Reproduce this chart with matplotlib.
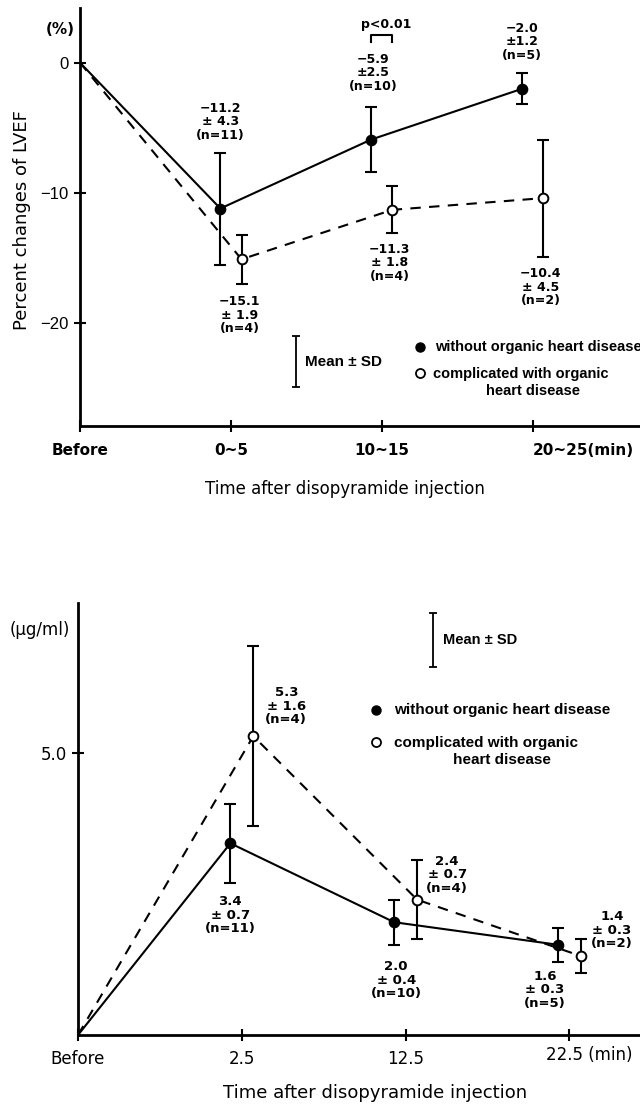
import numpy as np
import matplotlib.pyplot as plt

plt.rcParams['font.family'] = ['DejaVu Sans']
ARIAL = ['Liberation Sans', 'DejaVu Sans']

# upper panel: percent change of LVEF
time_top = ["Before", "0~5", "10~15", "20~25(min)"]
lvef_without = [0, -11.2, -5.9, -2.0]
lvef_without_sd = [0, 4.3, 2.5, 1.2]
lvef_without_n = [None, 11, 10, 5]
lvef_with = [0, -15.1, -11.3, -10.4]
lvef_with_sd = [0, 1.9, 1.8, 4.5]
lvef_with_n = [None, 4, 4, 2]

# lower panel: plasma concentration
time_bottom = ["Before", "2.5", "12.5", "22.5 (min)"]
conc_without = [0, 3.4, 2.0, 1.6]
conc_without_sd = [0, 0.7, 0.4, 0.3]
conc_without_n = [None, 11, 10, 5]
conc_with = [0, 5.3, 2.4, 1.4]
conc_with_sd = [0, 1.6, 0.7, 0.3]
conc_with_n = [None, 4, 4, 2]

LW = 1.5
SHIFT = 0.07


def style_axes(ax):
    for s in ['top', 'right']:
        ax.spines[s].set_visible(False)
    for s in ['left', 'bottom']:
        ax.spines[s].set_linewidth(2.0)
    ax.tick_params(direction='inout', length=9, width=1.5)


def draw_series(ax, mean, sd, n, filled, label_offsets, sign, plus_space, fs):
    x = np.arange(len(mean), dtype=float)
    x[1:] += sign * SHIFT
    mean = np.asarray(mean, dtype=float)
    sd = np.asarray(sd, dtype=float)
    ax.errorbar(x[1:], mean[1:], yerr=sd[1:], fmt='none', ecolor='k',
                elinewidth=LW, capsize=4, capthick=LW, zorder=2)
    ax.plot(x, mean, color='k', lw=LW, ls='-' if filled else (0, (5, 4)),
            marker='o', markevery=[1, 2, 3], ms=7,
            mfc='k' if filled else 'white', mec='k', mew=1.4, zorder=3)
    for i in range(1, len(mean)):
        sp = plus_space[i - 1]
        txt = f"{mean[i]:.1f}\n±{sp}{sd[i]:.1f}\n(n={n[i]})".replace('-', '−')
        ax.annotate(txt, xy=(x[i], mean[i]), xytext=label_offsets[i - 1],
                    textcoords='offset pixels', ha='center', va='center',
                    fontsize=fs, fontweight='bold', linespacing=1.05)


fig = plt.figure(figsize=(6.4, 11.11), dpi=100)

# ---------------- upper panel ----------------
ax1 = fig.add_axes([0.125, 0.6166, 0.875, 0.3762])
style_axes(ax1)
ax1.set_xlim(0, 3.71)
ax1.set_ylim(-27.9, 4.2)
ax1.set_yticks([0, -10, -20])
ax1.set_yticklabels(["0", "−10", "−20"], fontsize=12, family=ARIAL)
ax1.set_xticks(range(4))
ax1.set_xticklabels(time_top, fontsize=11, fontweight='bold')
ax1.tick_params(axis='x', pad=8)
ax1.get_xticklabels()[3].set_ha('left')

draw_series(ax1, lvef_without, lvef_without_sd, lvef_without_n, True,
            [(0, 87), (2, 67), (0, 47)], -1, [" ", "", ""], 9)
draw_series(ax1, lvef_with, lvef_with_sd, lvef_with_n, False,
            [(-2, -56), (-3, -53), (-3, -89)], 1, [" ", " ", " "], 9)

# p<0.01 bracket at 10~15
ax1.plot([2 - SHIFT, 2 - SHIFT, 2 + SHIFT, 2 + SHIFT], [1.6, 2.15, 2.15, 1.6],
         color='k', lw=1.5)
ax1.text(2.03, 2.9, "p<0.01", ha='center', va='center', fontsize=9,
         fontweight='bold')

# Mean ± SD key
ax1.errorbar([1.43], [-22.95], yerr=[1.95], fmt='none', ecolor='k',
             elinewidth=1.3, capsize=3, capthick=1.3)
ax1.text(1.49, -22.95, "Mean ± SD", ha='left', va='center', fontsize=11,
         fontweight='bold', family=ARIAL)

# key for symbols
ax1.plot([2.25], [-21.8], 'o', color='k', ms=6.5)
ax1.text(2.35, -21.8, "without organic heart disease", ha='left',
         va='center', fontsize=10.5, fontweight='bold', family=ARIAL)
ax1.plot([2.25], [-23.85], 'o', mfc='white', mec='k', ms=6.5, mew=1.3)
ax1.text(2.34, -23.9, "complicated with organic", ha='left', va='center',
         fontsize=10.5, fontweight='bold', family=ARIAL)
ax1.text(3.0, -25.2, "heart disease", ha='center', va='center',
         fontsize=10.5, fontweight='bold', family=ARIAL)

fig.text(60 / 640, 1 - 30 / 1111, "(%)", ha='center', va='center',
         fontsize=11, fontweight='bold')
fig.text(22 / 640, 1 - 220 / 1111, "Percent changes of LVEF", rotation=90,
         ha='center', va='center', fontsize=13)
fig.text(345 / 640, 1 - 489 / 1111, "Time after disopyramide injection",
         ha='center', va='center', fontsize=12)

# ---------------- lower panel ----------------
ax2 = fig.add_axes([0.1219, 0.0684, 0.878, 0.3888])
style_axes(ax2)
ax2.set_xlim(0, 3.43)
ax2.set_ylim(0, 7.66)
ax2.set_yticks([5.0])
ax2.set_yticklabels(["5.0"], fontsize=12)
ax2.set_xticks(range(4))
ax2.set_xticklabels(time_bottom[:3] + [""], fontsize=12)
ax2.tick_params(axis='x', pad=6)
ax2.annotate(time_bottom[3], xy=(3, 0), xycoords=('data', 'axes fraction'),
             xytext=(-23, -11), textcoords='offset pixels', ha='left',
             va='top', fontsize=12)

draw_series(ax2, conc_without, conc_without_sd, conc_without_n, True,
            [(0, -72), (2, -58), (-13, -45)], -1, [" ", " ", " "], 9.5)
draw_series(ax2, conc_with, conc_with_sd, conc_with_n, False,
            [(33, 30), (30, 25), (31, 26)], 1, [" ", " ", " "], 9.5)

ax2.errorbar([2.165], [7.0], yerr=[0.48], fmt='none', ecolor='k',
             elinewidth=1.3, capsize=3, capthick=1.3)
ax2.text(2.23, 7.0, "Mean ± SD", ha='left', va='center', fontsize=10.5,
         fontweight='bold', family=ARIAL)

ax2.plot([1.82], [5.76], 'o', color='k', ms=6.5)
ax2.text(1.93, 5.76, "without organic heart disease", ha='left',
         va='center', fontsize=11, fontweight='bold', family=ARIAL)
ax2.plot([1.82], [5.2], 'o', mfc='white', mec='k', ms=6.5, mew=1.3)
ax2.text(1.93, 5.18, "complicated with organic", ha='left', va='center',
         fontsize=11, fontweight='bold', family=ARIAL)
ax2.text(2.59, 4.88, "heart disease", ha='center', va='center', fontsize=11,
         fontweight='bold', family=ARIAL)

fig.text(40 / 640, 1 - 630 / 1111, "(μg/ml)", ha='center', va='center',
         fontsize=12)
fig.text(375 / 640, 1 - 1093 / 1111, "Time after disopyramide injection",
         ha='center', va='center', fontsize=13)

fig.savefig("out.png", dpi=100)
